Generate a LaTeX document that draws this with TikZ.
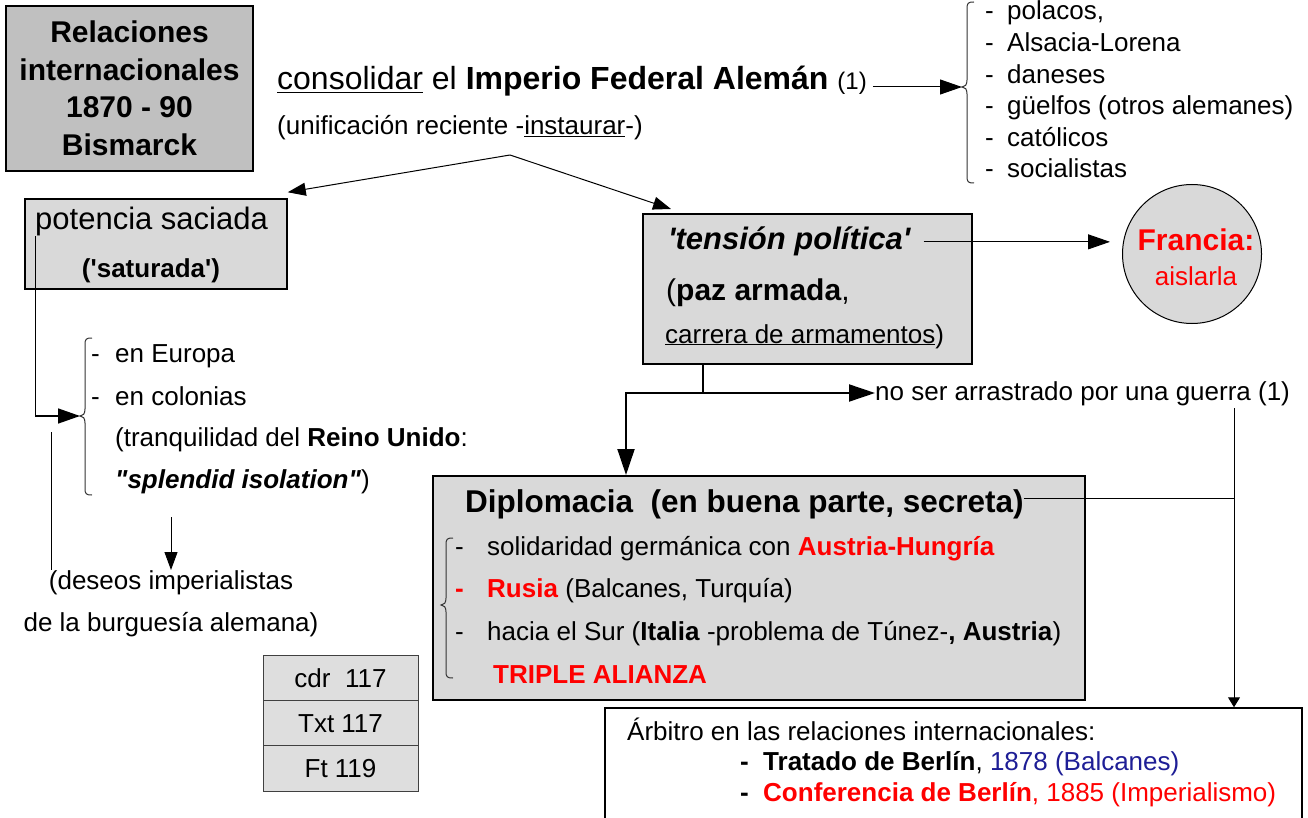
\documentclass[tikz,border=0pt]{standalone}
\usepackage{fontspec}
\setmainfont{Liberation Sans}[Ligatures=TeXOff]
\usetikzlibrary{arrows.meta,calc}
\definecolor{boxgray}{HTML}{D9D9D9}
\definecolor{titlegray}{HTML}{C0C0C0}
\definecolor{cdrgray}{HTML}{DEDEDE}
\definecolor{navy}{RGB}{30,30,150}
\definecolor{pured}{HTML}{FF0000}
\newcommand\fsz[1]{\fontsize{#1}{#1}\selectfont}
\tikzset{
  txt/.style={inner sep=0pt, anchor=base west},
  ctxt/.style={inner sep=0pt, anchor=base},
  box/.style={draw, line width=1.6pt, fill=boxgray, inner sep=0pt},
  conn/.style={line width=1pt},
  arr/.style={line width=1pt, -{Triangle[length=22pt,width=15pt]}},
  thinarr/.style={line width=1pt, -{Triangle[length=18pt,width=13pt]}},
  heavyarr/.style={line width=2pt, -{Triangle[length=26pt,width=17pt]}},
  smallarr/.style={line width=1pt, -{Triangle[length=10pt,width=12pt]}},
  bracestyle/.style={line width=1pt, draw=black!80},
  cdrbox/.style={draw=black!75, line width=1pt, fill=cdrgray, minimum width=155pt, minimum height=45.3pt, inner sep=0pt, font=\fsz{26}}
}
\newcommand\mybrace[4]{%
  \draw[bracestyle] ({#1+7},#2) .. controls ({#1+1},#2) and (#1,{#2+1}) .. (#1,{#2+7})
    -- (#1,{#3-7}) .. controls (#1,{#3-2}) and ({#1-2},#3) .. ({#1-5},#3)
    .. controls ({#1-2},#3) and (#1,{#3+2}) .. (#1,{#3+7})
    -- (#1,{#4-7}) .. controls (#1,{#4-1}) and ({#1+1},#4) .. ({#1+7},#4);}
\begin{document}
\begin{tikzpicture}[x=1pt,y=-1pt]
\useasboundingbox[fill=white] (0,0) rectangle (1308,818);

% title
\node[draw, line width=1.2pt, fill=titlegray, minimum width=247pt, minimum height=165pt, inner sep=0pt,
      align=center, font=\fontsize{30}{37.5}\selectfont\bfseries] (title) at (129.5,88.5)
      {Relaciones\\internacionales\\1870 - 90\\Bismarck};

% consolidar
\node[txt, font=\fsz{32}] (consol) at (277,90)
  {\underline{consolidar} el \textbf{Imperio Federal Alemán} {\fsz{24}(1)}};
\node[txt, font=\fsz{26}] (unif) at (277,135) {(unificación reciente -\underline{instaurar}-)};

% list of minorities
\foreach \t [count=\i from 0] in {{polacos,}, Alsacia-Lorena, daneses, güelfos (otros alemanes), católicos, socialistas}
  \node[txt, font=\fsz{26}] (la\i) at (985,{20+31.6*\i}) {\makebox[22pt][l]{-}\t};
\mybrace{967}{2}{87}{183}
\coordinate (b1) at (962,87);
\draw[arr] ([xshift=6pt]consol.east |- b1) -- (b1);

% potencia saciada
\node[box, line width=1.5pt, minimum width=262pt, minimum height=90pt] (potencia) at (156,244) {};
\node[txt, font=\fsz{31}] (pot1) at (35,230) {potencia saciada};
\node[ctxt, font=\bfseries\fsz{26}] (pot2) at (151,277) {('saturada')};

% tension
\node[box, line width=2pt, minimum width=329pt, minimum height=150pt] (tension) at (807.5,289) {};
\node[txt, font=\bfseries\itshape\fsz{31}] (ten1) at (668,250) {'tensión política'};
\node[txt, font=\fsz{30}] (ten2) at (666,300) {(\textbf{paz armada},};
\node[txt, font=\fsz{26}] (ten3) at (665,343) {\underline{carrera de armamentos})};

% apex arrows
\coordinate (apex) at (510,155);
\draw[thinarr] (apex) -- ([yshift=6pt]potencia.north east);
\draw[thinarr] (apex) -- ($(tension.north west)+(29,-4)$);

% Francia
\node[draw, line width=1pt, fill=boxgray, circle, minimum size=139pt, inner sep=0pt] (francia) at (1192,254) {};
\node[ctxt, font=\bfseries\fsz{30}, text=pured] (fr1) at (1196,251) {Francia:};
\node[ctxt, font=\fsz{26}, text=pured] (fr2) at (1196,285) {aislarla};
\draw[arr] ([xshift=13pt]ten1.east) -- ([xshift=-12pt]francia.west |- ten1.east);

% Europa list
\node[txt, font=\fsz{26}] (e1) at (91,362) {\makebox[24pt][l]{-}en Europa};
\node[txt, font=\fsz{26}] (e2) at (91,405) {\makebox[24pt][l]{-}en colonias};
\node[txt, font=\fsz{26}] (e3) at (115,446) {(tranquilidad del \textbf{Reino Unido}:};
\node[txt, font=\fsz{26}] (e4) at (115,488) {\textbf{\itshape "splendid isolation"})};
\mybrace{85}{338}{416}{495}
\coordinate (b2) at (80,416);
\draw[arr, line width=1.5pt] ($(potencia.north west)+(11,38)$) |- (b2);

% deseos
\node[inner sep=0pt, anchor=north, align=center, font=\fontsize{26}{42}\selectfont] (deseos) at (171,570)
  {(deseos imperialistas\\de la burguesía alemana)};
\coordinate (vl) at (51,432);
\draw[conn] (vl) -- (vl |- deseos.north);
\coordinate (da) at (171,517);
\draw[thinarr] (da) -- (deseos.north);

% cdr boxes
\node[cdrbox] (cdr1) at (340.5,678) {cdr\ \ 117};
\node[cdrbox] (cdr2) at (340.5,723.3) {Txt 117};
\node[cdrbox] (cdr3) at (340.5,768.6) {Ft 119};

% no ser arrastrado
\node[txt, font=\fsz{26}] (noser) at (875,400) {no ser arrastrado por una guerra (1)};
\coordinate (tj) at (703,393);
\draw[line width=2pt] (tj |- tension.south) -- (tj);
\draw[heavyarr] (tj) -- (tj -| noser.west);

% Diplomacia
\node[box, line width=2pt, minimum width=652pt, minimum height=224pt] (diplo) at (759,588) {};
\draw[heavyarr] (tj) -| ($(diplo.north west)+(194,0)$);
\node[txt, font=\bfseries\fsz{31.5}] (dtitle) at (465,512) {Diplomacia\ \ (en buena parte, secreta)};
\node[txt, font=\fsz{26}] (d1) at (455,555) {\makebox[32pt][l]{-}solidaridad germánica con \textcolor{pured}{\textbf{Austria-Hungría}}};
\node[txt, font=\fsz{26}] (d2) at (455,597) {\textcolor{pured}{\textbf{\makebox[32pt][l]{-}Rusia}} (Balcanes, Turquía)};
\node[txt, font=\fsz{26}] (d3) at (455,640) {\makebox[32pt][l]{-}hacia el Sur (\textbf{Italia} -problema de Túnez-\textbf{, Austria})};
\node[txt, font=\bfseries\fsz{26}, text=pured] (d4) at (493,683) {TRIPLE ALIANZA};
\mybrace{446}{538}{605}{678}

% Arbitro
\node[draw, line width=1.5pt, fill=white, minimum width=697pt, minimum height=130pt, inner sep=0pt] (arbitro) at (953.5,773) {};
\node[txt, font=\fsz{26}] (ar1) at (627,740) {Árbitro en las relaciones internacionales:};
\node[txt, font=\fsz{26}] (ar2) at (740,770) {\makebox[23pt][l]{\textbf{-}}\textbf{Tratado de Berlín}, \textcolor{navy}{1878 (Balcanes)}};
\node[txt, font=\fsz{26}] (ar3) at (740,801) {\makebox[23pt][l]{\textbf{-}}\textcolor{pured}{\textbf{Conferencia de Berlín}, 1885 (Imperialismo)}};

\coordinate (vr) at (1234,408);
\draw[smallarr] (vr) -- (vr |- arbitro.north);
\draw[conn] ([yshift=5pt]dtitle.east) -- ([yshift=5pt]dtitle.east -| vr);
\end{tikzpicture}
\end{document}
